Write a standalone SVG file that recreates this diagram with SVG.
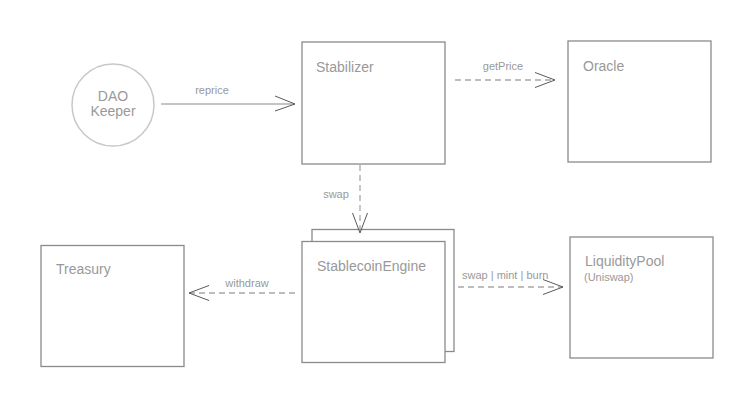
<svg xmlns="http://www.w3.org/2000/svg" width="750" height="405" viewBox="0 0 750 405">
<style>
.box{fill:#fff;stroke:#8a8a8a;stroke-width:1.3}
.circ{fill:#fff;stroke:#c8c8c8;stroke-width:1.5}
.t{font-family:"Liberation Sans",Arial,sans-serif;font-size:14px;fill:#999}
.s{font-family:"Liberation Sans",Arial,sans-serif;font-size:11px;fill:#999}
.solid{stroke:#8a8a8a;stroke-width:1.2;fill:none}
.dash{stroke:#a8a8a8;stroke-width:1.3;fill:none;stroke-dasharray:6 4}
.head{stroke:#5a5a5a;stroke-width:1;fill:none}
</style>
<rect width="750" height="405" fill="#fff"/>
<g id="dao-keeper">
<circle class="circ" cx="113" cy="105" r="41"/>
<text class="t" x="113" y="101" text-anchor="middle">DAO</text>
<text class="t" x="113" y="116" text-anchor="middle">Keeper</text>
</g>
<g id="stabilizer">
<rect class="box" x="302" y="42" width="143" height="122"/>
<text class="t" x="316" y="72">Stabilizer</text>
</g>
<g id="oracle">
<rect class="box" x="568" y="41" width="143" height="121"/>
<text class="t" x="583" y="71">Oracle</text>
</g>
<g id="stablecoin-engine">
<rect class="box" x="312" y="229.5" width="142" height="122"/>
<rect class="box" x="302" y="241.5" width="143" height="121"/>
<text class="t" x="317" y="271">StablecoinEngine</text>
</g>
<g id="treasury">
<rect class="box" x="41" y="245.5" width="143" height="121"/>
<text class="t" x="56" y="274">Treasury</text>
</g>
<g id="liquidity-pool">
<rect class="box" x="570" y="237" width="143" height="121"/>
<text class="t" x="585" y="266">LiquidityPool</text>
<text class="s" x="584" y="281">(Uniswap)</text>
</g>
<g id="connectors">
<line class="solid" x1="161" y1="104" x2="295" y2="104"/>
<polyline class="head" points="275,96 295,104 275,111"/>
<text class="s" x="212" y="94" text-anchor="middle">reprice</text>
<line class="dash" x1="455" y1="80" x2="555" y2="80"/>
<polyline class="head" points="535,72.5 555,80 535,87.5"/>
<text class="s" x="503" y="69.5" text-anchor="middle">getPrice</text>
<line class="dash" x1="360" y1="165" x2="360" y2="233"/>
<polyline class="head" points="352.5,213 360,233 367.5,213"/>
<text class="s" x="336" y="198" text-anchor="middle">swap</text>
<line class="dash" x1="458" y1="287" x2="563" y2="287"/>
<polyline class="head" points="543,279.5 563,287 543,294.5"/>
<text class="s" x="462" y="279">swap | mint | burn</text>
<line class="dash" x1="295" y1="293" x2="189" y2="293"/>
<polyline class="head" points="209,285.5 189,293 209,300.5"/>
<text class="s" x="247" y="286.5" text-anchor="middle">withdraw</text>
</g>
</svg>
